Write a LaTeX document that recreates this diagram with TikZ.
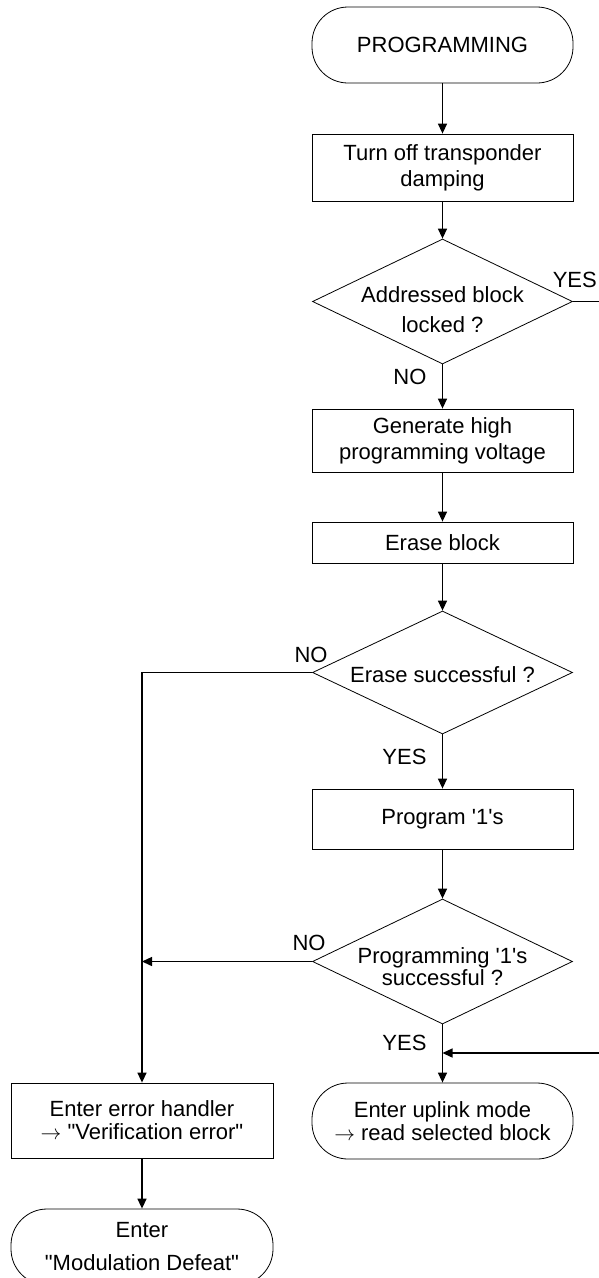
\documentclass[tikz,border=0pt]{standalone}
\usepackage{fontspec}
\setmainfont{Liberation Sans}
\usetikzlibrary{arrows.meta,shapes.geometric}

\begin{document}
\begin{tikzpicture}[x=1pt,y=1pt,
  font=\fontsize{22}{26}\selectfont,
  box/.style={draw,line width=0.8pt,minimum width=261pt,align=center,inner sep=0pt},
  term/.style={box,rounded corners=36pt,minimum height=76pt},
  test/.style={draw,line width=0.8pt,shape=diamond,aspect=2.08,inner sep=0pt,
    minimum width=260pt,minimum height=125pt},
  flow/.style={line width=1.4pt,-{Triangle[length=10pt,width=9pt]}}]
\useasboundingbox (0,0) rectangle (599,-1278);

% main column
\draw (442.5,-45) node[term] (start) {PROGRAMMING};
\draw (442.5,-167.5) node[box,minimum height=67pt] (damp) {Turn off transponder\\damping};
\draw (442.5,-301.5) node[test,label={[align=center,yshift=-8pt]center:Addressed block\\[4pt]locked ?}] (lock) {};
\draw (442.5,-440.5) node[box,minimum height=63pt] (hv) {Generate high\\programming voltage};
\draw (442.5,-542.5) node[box,minimum height=41pt] (erase) {Erase block};
\draw (442.5,-672.5) node[test,minimum height=123pt,label={[align=center,yshift=-2pt]center:Erase successful ?}] (echeck) {};
\draw (442.5,-819) node[box,minimum height=60pt] (prog) {Program \textquotesingle1\textquotesingle s};
\draw (442.5,-961.5) node[test,label={[align=center,yshift=-5pt]center:Programming \textquotesingle1\textquotesingle s\\[-4pt]successful ?}] (pcheck) {};
\draw (442.5,-1121) node[term] (uplink) {Enter uplink mode\\[-3pt]$\rightarrow$ read selected block};

% error column
\draw (142,-1120.5) node[box,minimum width=262pt,minimum height=75pt] (err) {Enter error handler\\[-3pt]$\rightarrow$ \textquotedbl Verification error\textquotedbl};
\draw (142,-1247) node[term,minimum width=262pt] (defeat) {Enter\\[7pt]\textquotedbl Modulation Defeat\textquotedbl};

% off-page loop back
\coordinate (loop) at (630,-301.5);
\coordinate (join) at (442.5,-1053);

\draw[flow] (start.south) -- (damp.north);
\draw[flow] (damp.south) -- (lock.north);
\draw[flow] (lock.south) -- (hv.north);
\draw[flow] (hv.south) -- (erase.north);
\draw[flow] (erase.south) -- (echeck.north);
\draw[flow] (echeck.south) -- (prog.north);
\draw[flow] (prog.south) -- (pcheck.north);
\draw[flow] (pcheck.south) -- (uplink.north);
\draw[flow] (lock.east) -- (loop) |- (join);
\draw[flow] (echeck.west) -| (err.north);
\draw[flow] (pcheck.west) -- (pcheck.west -| err.north);
\draw[flow] (err.south) -- (defeat.north);

% branch labels
\draw (598,-280) node[anchor=east,inner sep=1pt] (yes1) {YES};
\draw (430,-377) node[anchor=east] (no1) {NO};
\draw (311,-655) node (no2) {NO};
\draw (430,-757) node[anchor=east] (yes2) {YES};
\draw (309,-943) node (no3) {NO};
\draw (430,-1043) node[anchor=east] (yes3) {YES};
\end{tikzpicture}
\end{document}
